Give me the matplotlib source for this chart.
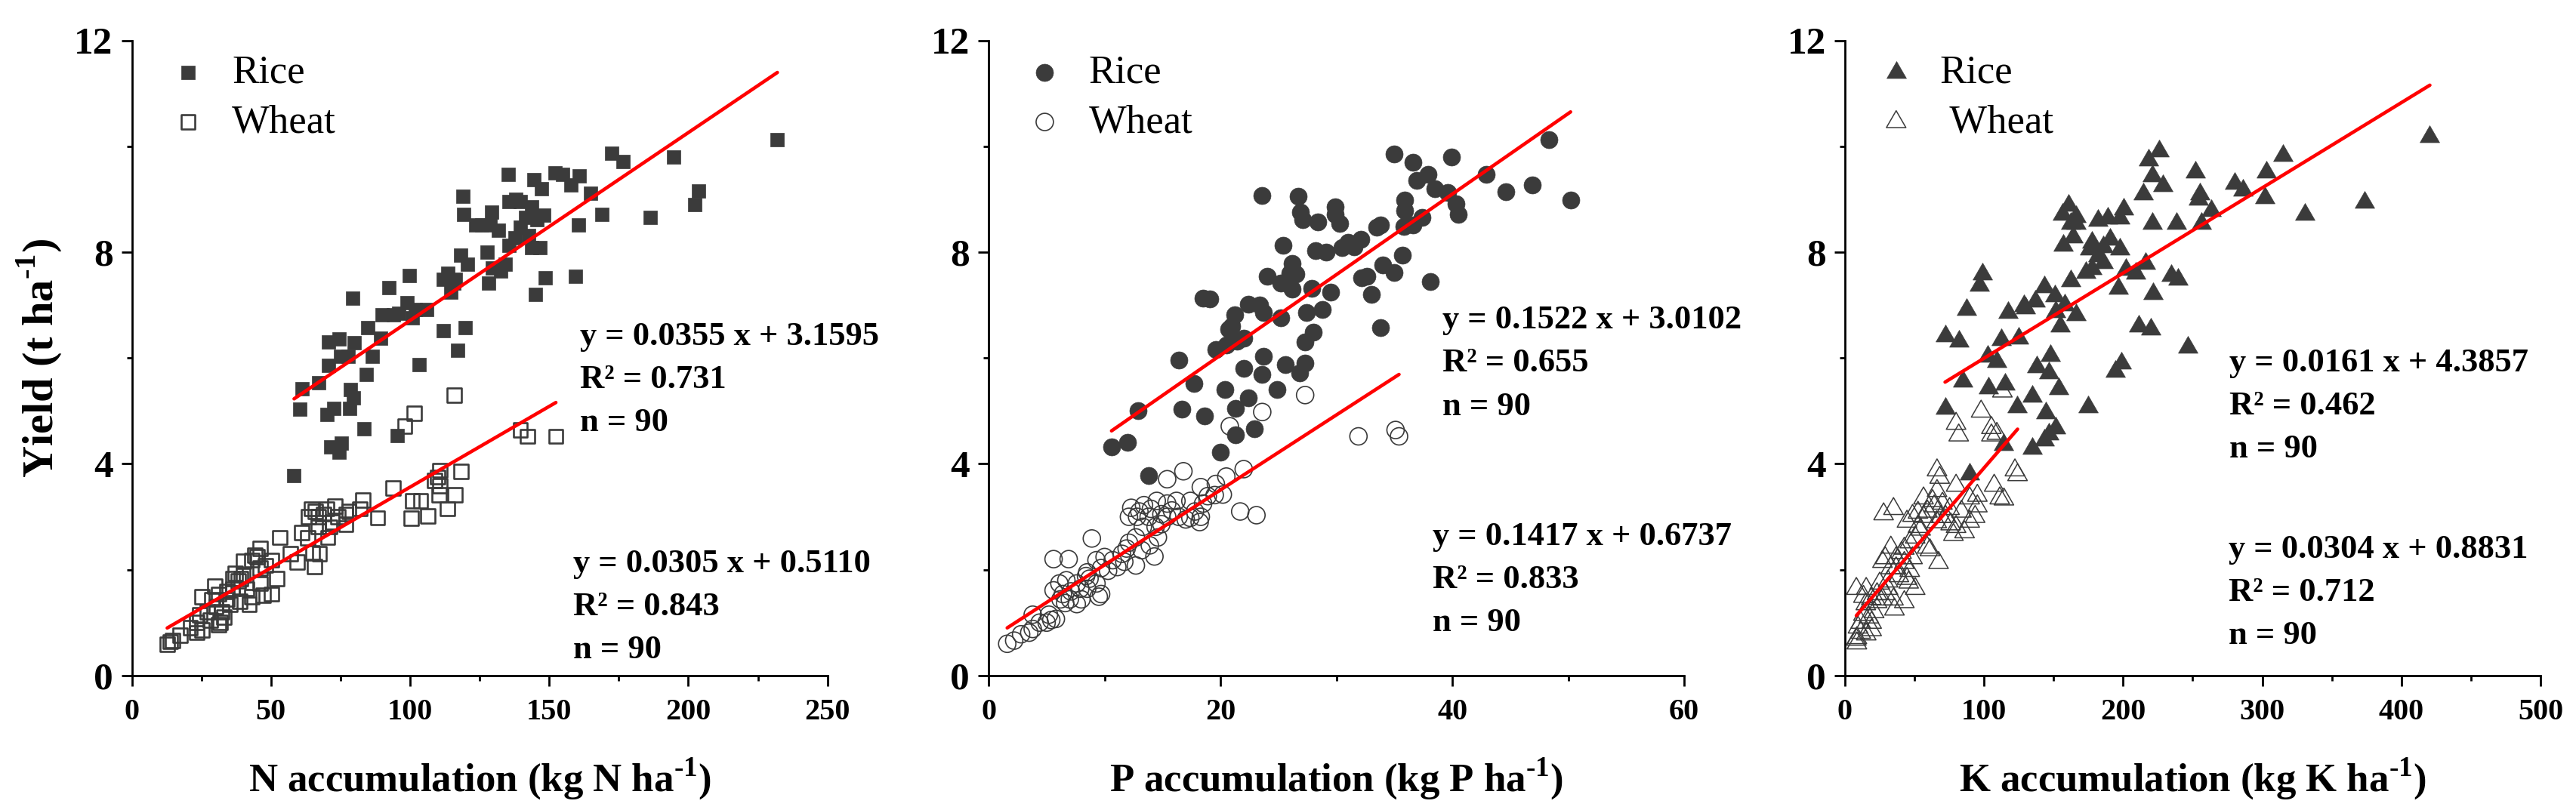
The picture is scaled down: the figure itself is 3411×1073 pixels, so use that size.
import matplotlib
matplotlib.use('Agg')
import matplotlib.pyplot as plt
import numpy as np
from matplotlib.ticker import MultipleLocator
from matplotlib.path import Path

plt.rcParams['font.family'] = 'Liberation Serif'
plt.rcParams['mathtext.fontset'] = 'custom'
plt.rcParams['mathtext.rm'] = 'Liberation Serif:bold'
plt.rcParams['mathtext.bf'] = 'Liberation Serif:bold'

# ---- N panel ----
n_rice_x = [232, 194.7, 172.4, 176.6, 154.7, 160.8, 135.2, 144.4, 147.2, 157.8, 165, 203.7, 202.3, 186.4, 168.9,
            160.5, 118.9, 119.3, 123.7, 129.3, 128.7, 135.6, 139.6, 143.6, 141.6, 145.6, 139.6, 137.6, 135.6, 143.6,
            146.6, 127.7, 118.3, 120.7, 134.2, 132.6, 148.6, 159.5, 111.8, 115.7, 114.7, 128.3, 145, 99.8, 92.3,
            79.4, 99, 101.8, 106, 100.8, 89.9, 93.9, 84.9, 89.5, 119.7, 111.8, 117.1, 103.2, 70.8, 74.4,
            79.9, 86.3, 77.6, 70.8, 67.2, 61.1, 78.6, 79.6, 84.3, 60.4, 72.6, 78.4, 70, 83.5, 95.3,
            71.4, 75.4, 74.4, 58.3, 131.7, 142.6, 125.7, 116.4, 75, 129.7, 148, 96, 152, 113.5, 138]
n_rice_y = [10.13, 9.8, 9.87, 9.71, 9.47, 9.44, 9.47, 9.37, 9.2, 9.27, 9.12, 9.15, 8.9, 8.66, 8.71,
            8.52, 9.05, 8.71, 8.52, 8.76, 8.52, 8.96, 8.96, 8.86, 8.66, 8.61, 8.47, 8.27, 8.13, 8.08,
            8.08, 8.0, 7.95, 7.77, 7.77, 7.64, 7.51, 7.54, 7.49, 7.41, 7.25, 7.41, 7.2, 7.56, 7.33,
            7.13, 7.05, 6.91, 6.91, 6.76, 6.81, 6.81, 6.57, 6.37, 6.57, 6.52, 6.15, 5.87, 6.3, 6.36,
            6.29, 6.03, 6.03, 5.86, 5.54, 5.42, 5.4, 5.25, 5.69, 5.03, 5.05, 5.05, 4.93, 4.66, 4.54,
            4.32, 4.39, 4.22, 3.78, 8.42, 8.32, 8.52, 7.49, 6.03, 7.7, 8.7, 6.85, 9.5, 7.6, 9.0]
n_wheat_x = [152.4, 139.6, 142.2, 115.8, 101.4, 98.1, 118.3, 110.8, 108.8, 110.8, 110.4, 116.1, 113.4, 106.4, 100.4,
             100.8, 103.8, 93.9, 88.3, 83, 82, 76.9, 76.9, 73, 70, 67, 64.6, 63.4, 74, 71,
             67, 70.4, 63.2, 65, 67.4, 65.6, 59.5, 53.1, 52.1, 50.1, 46.1, 45.1, 43.1, 46.1, 40.2,
             37.2, 39.2, 36.2, 41.2, 46.1, 50.1, 47.1, 43.1, 38.8, 35.2, 31.2, 29.8, 25.3, 30.2, 27.2,
             32.2, 24.3, 23.3, 28.2, 31.8, 31.2, 23.3, 25.3, 17.3, 14.7, 12.7, 13.9, 34.2, 42.2, 48.1,
             38.2, 36.2, 44.2, 28.8, 34.2, 72, 66, 110, 78, 33, 40, 57, 61, 69, 21]
n_wheat_y = [4.52, 4.64, 4.52, 5.3, 4.96, 4.71, 3.86, 3.88, 3.69, 3.59, 3.41, 3.42, 3.15, 3.02, 2.97,
             3.3, 3.3, 3.54, 2.98, 3.32, 3.15, 3.05, 2.86, 3.2, 3.15, 3.0, 3.15, 3.0, 3.0, 2.81,
             2.81, 2.61, 2.6, 2.32, 2.3, 2.06, 2.15, 2.61, 1.83, 2.18, 2.4, 2.24, 2.18, 2.03, 2.16,
             1.93, 1.83, 1.64, 1.64, 1.74, 1.54, 1.52, 1.49, 1.4, 1.35, 1.54, 1.69, 1.49, 1.3, 1.2,
             1.2, 1.15, 1.0, 1.05, 1.0, 0.96, 0.81, 0.86, 0.76, 0.66, 0.59, 0.64, 1.44, 1.35, 2.08,
             1.79, 1.83, 2.27, 1.44, 1.59, 2.9, 3.1, 3.75, 3.1, 1.1, 1.9, 2.3, 2.7, 3.05, 0.9]

# ---- P panel ----
p_rice_x = [48.3, 35.0, 39.9, 36.6, 37.9, 42.9, 36.9, 38.5, 39.6, 44.6, 46.9, 50.2, 40.3, 40.5, 35.9,
            35.9, 37.4, 36.6, 35.8, 33.8, 33.5, 29.9, 29.9, 30.3, 28.4, 27.1, 26.9, 26.7, 23.6, 25.4,
            28.2, 29.1, 30.5, 31, 32.1, 35.7, 34, 35.0, 38.1, 32.2, 32.6, 33.0, 33.8, 29.5, 27.9,
            26.2, 26.5, 26.2, 25.2, 24.0, 22.4, 23.4, 23.7, 25.2, 27.4, 28.8, 28, 27.3, 27.3, 26.8,
            25.6, 24.9, 23.7, 23.6, 22.4, 22.9, 21.3, 21.3, 20.0, 20.4, 22.0, 21.4, 22.0, 20.7, 21.2,
            19.6, 20.5, 18.5, 19.1, 16.4, 17.7, 16.7, 18.6, 12.9, 12.0, 10.6, 13.8, 21.0, 26.0, 31.5]
p_rice_y = [10.13, 9.86, 9.8, 9.7, 9.47, 9.47, 9.35, 9.2, 9.13, 9.14, 9.27, 8.99, 8.91, 8.71, 8.98,
            8.79, 8.66, 8.52, 8.49, 8.52, 8.47, 8.86, 8.71, 8.54, 8.57, 8.61, 8.76, 9.05, 9.07, 8.13,
            8.03, 8.0, 8.08, 8.18, 8.25, 7.95, 7.76, 7.62, 7.44, 7.51, 7.54, 7.2, 6.57, 7.25, 7.32,
            7.79, 7.59, 7.3, 7.42, 7.54, 7.02, 7.0, 6.86, 6.76, 6.86, 6.91, 6.49, 6.3, 5.9, 5.72,
            5.88, 5.4, 6.03, 5.69, 5.25, 4.66, 5.05, 4.55, 4.22, 5.4, 5.81, 6.32, 6.37, 6.54, 6.81,
            6.16, 6.25, 7.13, 7.12, 5.96, 5.52, 5.03, 4.91, 5.0, 4.4, 4.32, 3.78, 6.6, 7.6, 8.1]
p_wheat_x = [27.3, 23.6, 20.8, 31.9, 35.1, 35.4, 22.0, 20.5, 16.8, 15.4, 19.6, 18.3, 20.2, 19.5, 21.7,
             23.1, 18.5, 17.4, 16.2, 18.3, 17.4, 15.8, 15.4, 14.5, 14.0, 13.4, 12.3, 12.1, 13.8, 14.9,
             14.4, 13.3, 12.7, 14.6, 8.9, 11.9, 13.2, 14.3, 11.7, 12.7, 10.0, 9.3, 6.9, 5.6, 10.3,
             8.5, 8.4, 6.7, 7.6, 9.3, 9.7, 9.5, 5.6, 7.1, 6.2, 7.6, 6.6, 7.9, 5.2, 5.8,
             5.0, 3.8, 3.8, 3.5, 2.8, 2.2, 1.6, 8.5, 10.7, 7.0, 16.4, 17.8, 18.9, 12.1, 13.9,
             11.1, 5.4, 6.1, 8.7, 8.0, 4.4, 14.9, 12.8, 18.2, 15.4, 9.7, 6.4, 11.5, 13.0, 17.0]
p_wheat_y = [5.3, 4.98, 4.71, 4.52, 4.64, 4.52, 3.9, 3.76, 3.86, 3.71, 3.62, 3.56, 3.42, 3.41, 3.1,
             3.03, 3.25, 3.3, 3.3, 3.0, 2.98, 3.12, 3.0, 3.3, 3.15, 3.22, 3.17, 3.0, 3.0, 3.05,
             2.81, 2.81, 2.61, 2.61, 2.59, 2.4, 2.37, 2.25, 2.15, 2.08, 2.24, 2.18, 2.2, 2.2, 1.98,
             1.95, 1.88, 1.8, 1.74, 1.74, 1.54, 1.49, 1.61, 1.59, 1.44, 1.35, 1.37, 1.64, 1.15, 1.07,
             1.0, 1.15, 0.88, 0.81, 0.78, 0.66, 0.6, 1.64, 2.18, 1.44, 3.0, 3.1, 3.39, 2.51, 2.46,
             2.05, 1.05, 1.74, 1.83, 1.44, 1.0, 2.86, 3.0, 2.9, 3.25, 2.03, 1.54, 2.3, 3.1, 2.95]

# ---- K panel ----
k_rice_x = [420.5, 314.8, 225.9, 218.1, 220.8, 228.6, 252.1, 303.1, 279.9, 286.2, 255.3, 254.2, 301.9, 373.5, 330.5,
            214.2, 200.5, 197.4, 188.8, 160.9, 156.2, 162.1, 166.0, 220.8, 238.4, 256.1, 263.1, 164.1, 157.0, 190.7,
            197.4, 177.8, 175.9, 181.8, 185.7, 216.1, 202.1, 173.1, 162.1, 234.5, 239.6, 196.6, 221.6, 151.1, 143.3,
            158.2, 151.6, 117.1, 128.8, 136.6, 166.0, 155.0, 98.7, 96.7, 87.7, 72.0, 81.8, 112.4, 124.9, 211.2,
            219.8, 246.4, 198.5, 194.2, 147.6, 137.8, 146.4, 153.5, 134.7, 123.9, 102.6, 109.2, 103.4, 84.6, 72.0,
            144.5, 151.5, 146.4, 134.7, 143.3, 114.3, 174.7, 89.7, 166, 185.6, 181.8, 209, 115, 177.8, 130]
k_rice_y = [10.18, 9.83, 9.91, 9.74, 9.44, 9.25, 9.51, 9.51, 9.3, 9.17, 9.1, 9.0, 9.03, 8.94, 8.71,
            9.1, 8.81, 8.64, 8.64, 8.88, 8.71, 8.55, 8.54, 8.55, 8.55, 8.55, 8.78, 8.29, 8.13, 8.25,
            8.06, 8.18, 8.06, 7.93, 7.8, 7.79, 7.67, 7.61, 7.46, 7.56, 7.49, 7.32, 7.22, 7.18, 7.35,
            7.0, 6.88, 6.86, 6.99, 7.08, 6.81, 6.6, 7.59, 7.38, 6.91, 6.42, 6.32, 6.34, 6.37, 6.61,
            6.54, 6.2, 5.91, 5.74, 6.05, 5.83, 5.72, 5.42, 5.28, 5.08, 6.03, 5.93, 5.44, 5.56, 5.05,
            4.96, 4.68, 4.57, 4.29, 4.45, 4.37, 5.08, 3.81, 8.67, 8.1, 8.6, 7.6, 5.5, 7.69, 6.95]
k_wheat_x = [113.2, 97.9, 79.9, 81.8, 105.3, 105.3, 109.2, 66.2, 68.1, 79.9, 122.2, 124.1, 107.3, 114.3, 95.2,
             89.7, 66.2, 56.5, 70.1, 64.2, 75.2, 83.8, 52.5, 48.6, 34.9, 27.8, 44.6, 59.3, 69.2, 93.6,
             89.7, 79.9, 78.0, 50.5, 54.4, 42.7, 46.6, 61.1, 67.3, 36.8, 29.0, 27.0, 42.7, 32.9, 46.6,
             38.8, 45.8, 50.5, 31.0, 23.1, 27.0, 34.9, 15.3, 8.2, 42.7, 35.6, 13.3, 17.2, 11.4, 9.4,
             19.2, 15.3, 8.2, 8.6, 23.1, 31.0, 40.7, 59.1, 72.4, 95.2, 111.3, 25, 19.2, 29, 52.5,
             36.8, 44.6, 66, 86, 63, 76, 15, 21, 48.6, 33, 56.5, 11.4, 8.6, 13.3, 19]
k_wheat_y = [5.37, 4.99, 4.76, 4.54, 4.68, 4.54, 4.57, 3.88, 3.74, 3.59, 3.88, 3.79, 3.59, 3.33, 3.4,
             3.35, 3.49, 3.35, 3.25, 3.2, 3.15, 3.1, 3.08, 3.02, 3.15, 3.05, 2.91, 3.1, 3.0, 3.0,
             2.91, 2.81, 2.66, 2.61, 2.76, 2.4, 2.52, 2.37, 2.13, 2.22, 2.22, 2.15, 2.13, 2.03, 1.98,
             1.88, 1.76, 1.64, 1.64, 1.54, 1.44, 1.44, 1.64, 1.64, 1.39, 1.25, 1.15, 1.1, 1.0, 0.91,
             0.86, 0.78, 0.68, 0.61, 1.39, 1.78, 2.32, 2.42, 3.0, 3.2, 3.35, 1.74, 1.0, 1.54, 2.81,
             2.03, 1.83, 2.9, 2.71, 3.3, 2.86, 1.35, 1.2, 2.22, 2.42, 3.0, 0.81, 0.71, 1.49, 1.45]

xlabels = ['N accumulation (kg N ha$^{\\text{-1}}$)',
           'P accumulation (kg P ha$^{\\text{-1}}$)',
           'K accumulation (kg K ha$^{\\text{-1}}$)']
ylabel = 'Yield (t ha$^{\\text{-1}}$)'
xmax = [250, 60, 500]
xmajor = [50, 20, 100]

# fitted equations: slope, intercept, R2
rice_fit = [(0.0355, 3.1595, '0.731'), (0.1522, 3.0102, '0.655'), (0.0161, 4.3857, '0.462')]
wheat_fit = [(0.0305, 0.5110, '0.843'), (0.1417, 0.6737, '0.833'), (0.0304, 0.8831, '0.712')]
n_obs = [90, 90, 90]

rice_x = [n_rice_x, p_rice_x, k_rice_x]
rice_y = [n_rice_y, p_rice_y, k_rice_y]
wheat_x = [n_wheat_x, p_wheat_x, k_wheat_x]
wheat_y = [n_wheat_y, p_wheat_y, k_wheat_y]

# equilateral triangle marker (closed path)
tri = Path([(0, 0.577), (-0.5, -0.289), (0.5, -0.289), (0, 0.577)], closed=True)
markers = ['s', 'o', tri]
msizes = [13.5, 16.5, 21.5]
wheat_lw = [1.9, 1.2, 1.1]
wheat_labels = ['Wheat', 'Wheat', ' Wheat']

# text positions (axes fraction)
rice_txt = [(0.644, 0.557), (0.652, 0.583), (0.553, 0.516)]
wheat_txt = [(0.634, 0.200), (0.638, 0.242), (0.552, 0.222)]
legend_x = [0.052, 0.052, 0.045]

dark = '#3b3b3b'

fig = plt.figure(figsize=(34.11, 10.73), dpi=100)
lefts = [0.0512, 0.3838, 0.7162]

for i in range(3):
    ax = fig.add_axes([lefts[i], 0.166, 0.27, 0.784])
    ax.scatter(rice_x[i], rice_y[i], marker=markers[i], s=msizes[i] ** 2, color=dark,
               edgecolors=dark, linewidths=0.5, label='Rice', zorder=3)
    ax.scatter(wheat_x[i], wheat_y[i], marker=markers[i], s=msizes[i] ** 2, facecolors='none',
               edgecolors=dark, linewidths=wheat_lw[i], label=wheat_labels[i], zorder=3)

    for fit, xs in [(rice_fit[i], rice_x[i]), (wheat_fit[i], wheat_x[i])]:
        xx = np.array([min(xs), max(xs)])
        ax.plot(xx, fit[0] * xx + fit[1], color='red', lw=3.3, zorder=4, solid_capstyle='round')

    for (tx, ty), fit in [(rice_txt[i], rice_fit[i]), (wheat_txt[i], wheat_fit[i])]:
        ax.text(tx, ty, 'y = %.4f x + %.4f\nR² = %s\nn = %d' % (fit[0], fit[1], fit[2], n_obs[i]),
                transform=ax.transAxes, fontsize=32, fontweight='bold', va='top', ha='left',
                linespacing=1.55)

    ax.set_xlim(0, xmax[i])
    ax.set_ylim(0, 12)
    ax.xaxis.set_major_locator(MultipleLocator(xmajor[i]))
    ax.xaxis.set_minor_locator(MultipleLocator(xmajor[i] / 2))
    ax.yaxis.set_major_locator(MultipleLocator(4))
    ax.yaxis.set_minor_locator(MultipleLocator(2))
    for s in ['top', 'right']:
        ax.spines[s].set_visible(False)
    for s in ['left', 'bottom']:
        ax.spines[s].set_linewidth(2)
    ax.tick_params(which='major', direction='out', length=10, width=2)
    ax.tick_params(which='minor', direction='out', length=5, width=2)
    ax.tick_params(axis='x', which='major', labelsize=29, pad=12)
    ax.tick_params(axis='y', which='major', labelsize=37, pad=8)
    for lab in ax.get_xticklabels() + ax.get_yticklabels():
        lab.set_fontweight('bold')
    ax.set_xlabel(xlabels[i], fontsize=38, fontweight='bold', labelpad=28)
    if i == 0:
        ax.set_ylabel(ylabel, fontsize=42, fontweight='bold', labelpad=10)

    ax.legend(loc='upper left', bbox_to_anchor=(legend_x[i], 0.977), frameon=False, fontsize=38,
              handlelength=1.0, handletextpad=0.6, labelspacing=0.33, borderpad=0, borderaxespad=0)

fig.savefig('out.png', dpi=100)
